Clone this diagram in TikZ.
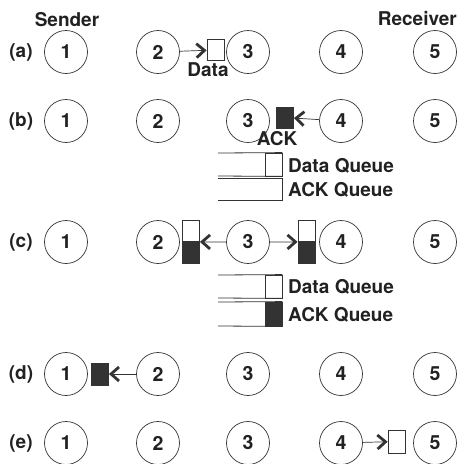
\documentclass[tikz,border=0pt]{standalone}
\usepackage{fontspec}
\setmainfont{TeX Gyre Heros}
\usetikzlibrary{arrows.meta}
\definecolor{ink}{gray}{0.2}
\definecolor{textink}{gray}{0.13}
\tikzset{
  hop/.style={circle, draw=ink, line width=0.7pt, minimum size=43pt, inner sep=0pt, font=\fontsize{19.5}{22}\selectfont\bfseries, text=textink},
  tag/.style={font=\fontsize{19}{22}\selectfont\bfseries, text=textink, inner sep=0pt},
  pkt/.style={draw=ink, line width=0.8pt, minimum width=17pt, minimum height=21pt, inner sep=0pt},
  ackpkt/.style={pkt, fill=ink},
  fwd/.style={draw=ink, line width=0.7pt, -{Straight Barb[length=8pt, width=14pt, line width=2.8pt, sharp]}},
  queue/.style={draw=ink, line width=0.8pt},
}
\begin{document}
\begin{tikzpicture}[x=1pt, y=-1pt]
	  \useasboundingbox (0,0) rectangle (459,464);
	  \node[tag] (sender) at (67,20) {Sender};
	  \node[tag, anchor=east] (receiver) at (457,19) {Receiver};
	  \foreach \r/\y in {a/52, b/121, c/242, d/374, e/443} {
	    \node[tag] (lbl\r) at (21,\y) {(\r)};
	    \foreach \i/\x in {1/66, 2/158, 3/248, 4/341, 5/435}
	      \node[hop] (\r\i) at (\x,\y) {\i};
	  }
	  % (a)
	  \node[pkt] (pa) at (215.5,50) {};
	  \draw[fwd] (a2) -- (pa);
	  \node[tag] (data) at (208,70) {Data};
	  % (b)
	  \node[ackpkt] (pb) at (285,117.5) {};
	  \draw[fwd] (b4) -- (pb);
	  \node[tag] (ack) at (277,139) {ACK};
	  \node[pkt, minimum height=23pt] (qdb) at (273.5,164.5) {};
	  \draw[queue] (qdb.north east) -- (218,153);
	  \draw[queue] (qdb.south east) -- (218,176);
	  \draw[queue] (282,178) -- (218,178) (282,178) -- (282,200) -- (218,200);
	  \node[tag, anchor=west] (qdbt) at (288,166) {Data Queue};
	  \node[tag, anchor=west] (qabt) at (288,189.5) {ACK Queue};
	  % (c)
	  \node[pkt, minimum height=21.5pt] (cl1) at (191,230.75) {};
	  \node[ackpkt, minimum height=21.5pt] (cl2) at (191,252.25) {};
	  \node[pkt, minimum height=21.5pt] (cr1) at (306.5,230.75) {};
	  \node[ackpkt, minimum height=21.5pt] (cr2) at (306.5,252.25) {};
	  \draw[fwd] (c3.west) -- (cl1.south east);
	  \draw[fwd] (c3.east) -- (cr1.south west);
	  \node[pkt, minimum height=23pt] (qdc) at (273.5,286.5) {};
	  \draw[queue] (qdc.north east) -- (218,275);
	  \draw[queue] (qdc.south east) -- (218,298);
	  \node[ackpkt, minimum height=24pt] (qac) at (273.5,314) {};
	  \draw[queue] (qac.north east) -- (218,302);
	  \draw[queue] (qac.south east) -- (218,326);
	  \node[tag, anchor=west] (qdct) at (288,287) {Data Queue};
	  \node[tag, anchor=west] (qact) at (288,315) {ACK Queue};
	  % (d)
	  \node[ackpkt, minimum height=22pt] (pd) at (100,374) {};
	  \draw[fwd] (d2) -- (pd);
	  % (e)
	  \node[pkt, minimum height=23pt] (pe) at (396.5,441.5) {};
	  \draw[fwd] (e4) -- (pe);
	\end{tikzpicture}
\end{document}
